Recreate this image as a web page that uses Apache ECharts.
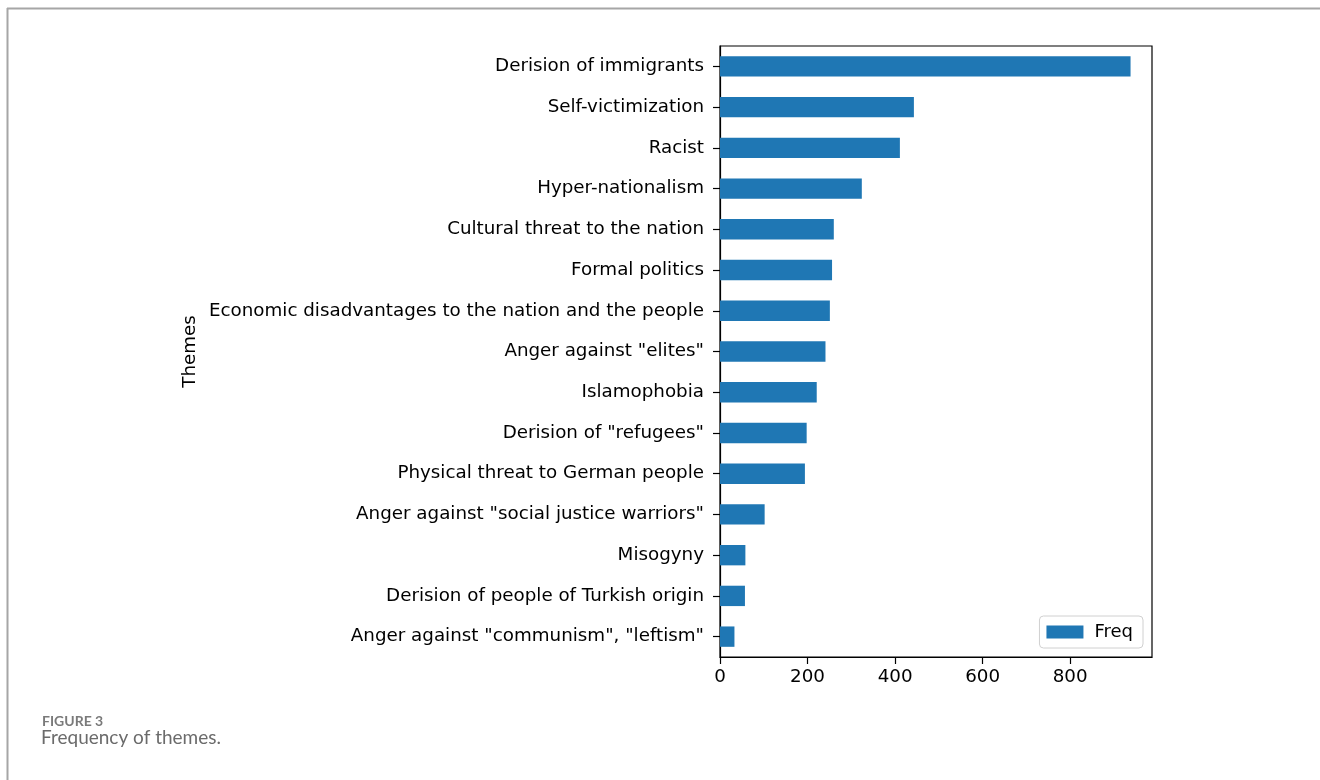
<!DOCTYPE html>
<html>
<head>
<meta charset="utf-8">
<script src="https://cdn.jsdelivr.net/npm/echarts@6/dist/echarts.min.js"></script>
<style>
  html, body { margin: 0; padding: 0; background: #fff; }
  #main { width: 1320px; height: 780px; }
</style>
</head>
<body>
<div id="main"></div>
<script>
// themes, top to bottom
var themes = [
  'Derision of immigrants',
  'Self-victimization',
  'Racist',
  'Hyper-nationalism',
  'Cultural threat to the nation',
  'Formal politics',
  'Economic disadvantages to the nation and the people',
  'Anger against "elites"',
  'Islamophobia',
  'Derision of "refugees"',
  'Physical threat to German people',
  'Anger against "social justice warriors"',
  'Misogyny',
  'Derision of people of Turkish origin',
  'Anger against "communism", "leftism"'
];
var freq = [938, 443, 411, 324, 260, 256, 251, 241, 221, 198, 194, 102, 58, 57, 33];
var xTicks = [0, 200, 400, 600, 800];

var myChart = echarts.init(document.getElementById('main'));
var option = {
  animation: false,
  textStyle: { fontFamily: 'DejaVu Sans' },
  grid: {
    left: 720, right: 168, top: 46, bottom: 123,
    show: true, borderColor: '#000', borderWidth: 1.2
  },
  legend: {
    right: 177, bottom: 132,
    data: [{ name: 'Freq', icon: 'rect' }],
    itemWidth: 37, itemHeight: 13,
    padding: [7, 10, 7, 7],
    borderColor: '#d0d0d0', borderWidth: 1, borderRadius: 4,
    textStyle: { fontSize: 18, color: '#000', padding: [0, 0, 0, 6] }
  },
  graphic: [
    { type: 'line', shape: { x1: 7, y1: 8.5, x2: 1320, y2: 8.5 }, style: { stroke: '#a6a6a6', lineWidth: 2 } },
    { type: 'line', shape: { x1: 7.5, y1: 8, x2: 7.5, y2: 780 }, style: { stroke: '#a6a6a6', lineWidth: 2 } },
    { type: 'text', left: 42, top: 714, style: { text: 'FIGURE 3', fontFamily: 'Lato', fontWeight: 'bold', fontSize: 14, fill: '#7a7a7a' } },
    { type: 'text', left: 41, top: 728, style: { text: 'Frequency of themes.', fontFamily: 'Lato', fontSize: 19, fill: '#6b6b6b' } }
  ],
  xAxis: {
    type: 'value',
    min: 0, max: 987,
    interval: 200,
    splitLine: { show: false },
    axisLine: { show: true, lineStyle: { color: '#000', width: 1.2 } },
    axisTick: { show: true, length: 7, customValues: xTicks, lineStyle: { color: '#000', width: 1.2 } },
    axisLabel: { customValues: xTicks, fontSize: 18.3, color: '#000', margin: 11 }
  },
  yAxis: {
    type: 'category',
    inverse: true,
    data: themes,
    name: 'Themes',
    nameLocation: 'middle',
    nameRotate: 90,
    nameGap: 521,
    nameTextStyle: { fontSize: 18.3, color: '#000' },
    axisLine: { show: true, lineStyle: { color: '#000', width: 1.2 } },
    axisTick: { show: true, alignWithLabel: true, length: 7, lineStyle: { color: '#000', width: 1.2 } },
    axisLabel: { fontSize: 18.3, color: '#000', margin: 16 }
  },
  series: [{
    name: 'Freq',
    type: 'bar',
    data: freq,
    barWidth: '50%',
    itemStyle: { color: '#1f77b4' }
  }]
};
myChart.setOption(option);
</script>
</body>
</html>
